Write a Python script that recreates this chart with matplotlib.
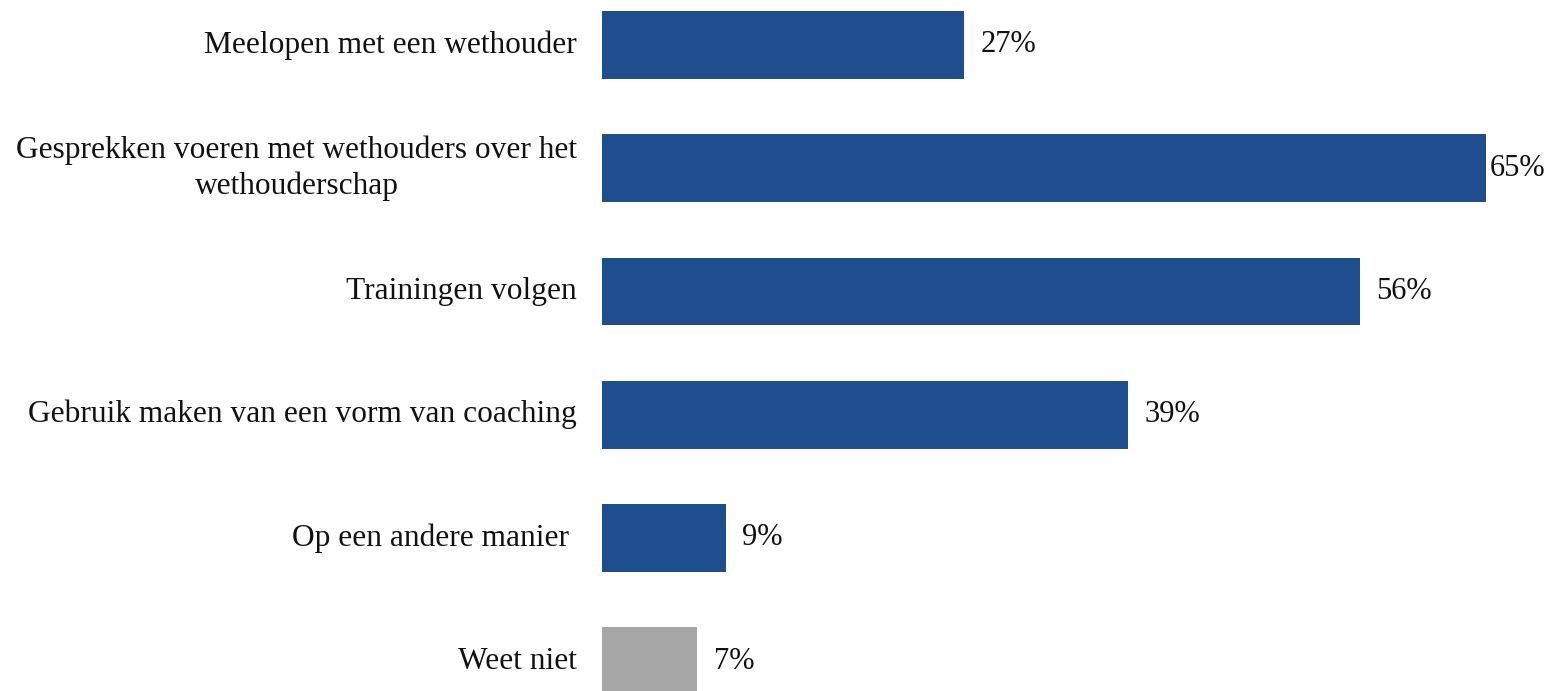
import matplotlib
matplotlib.use("Agg")
import matplotlib.pyplot as plt

categories = [
    "Meelopen met een wethouder",
    "Gesprekken voeren met wethouders over het\nwethouderschap",
    "Trainingen volgen",
    "Gebruik maken van een vorm van coaching",
    "Op een andere manier ",
    "Weet niet",
]
values = [26.6, 65.0, 55.7, 38.7, 9.1, 7.0]
colors = ["#1F4E8F", "#1F4E8F", "#1F4E8F", "#1F4E8F", "#1F4E8F", "#A6A6A6"]

plt.rcParams['font.family'] = ['Liberation Serif', 'DejaVu Serif']

W, H = 1550, 691
fig = plt.figure(figsize=(W / 100, H / 100), dpi=100)
left_px, right_px = 602, 1545
ax = fig.add_axes([left_px / W, 0, (right_px - left_px) / W, 1])

ypos = list(range(len(categories)))
ax.barh(ypos, values, height=0.55, color=colors)
xmax = (right_px - left_px) / 13.6
ax.set_xlim(0, xmax)
ax.set_ylim(5.243, -0.365)
ax.axis('off')

fs = 22
tc = '#111111'
for y, cat in zip(ypos, categories):
    ax.annotate(cat, xy=(0, y), xytext=(-18, 0), textcoords='offset points',
                ha='right', va='center', multialignment='center', linespacing=1.3,
                fontsize=22.6, color=tc, annotation_clip=False)

fig.canvas.draw()
renderer = fig.canvas.get_renderer()
for y, v in zip(ypos, values):
    lab = f"{round(v)}%"
    t = ax.annotate(lab, xy=(v, y), xytext=(12, 0), textcoords='offset points',
                    ha='left', va='center', fontsize=fs, color=tc,
                    annotation_clip=False)
    bb = t.get_window_extent(renderer)
    if bb.x1 > right_px:
        t.remove()
        ax.annotate(lab, xy=(xmax, y), ha='right', va='center', fontsize=fs,
                    color=tc, annotation_clip=False)

fig.savefig("out.png", dpi=100)
